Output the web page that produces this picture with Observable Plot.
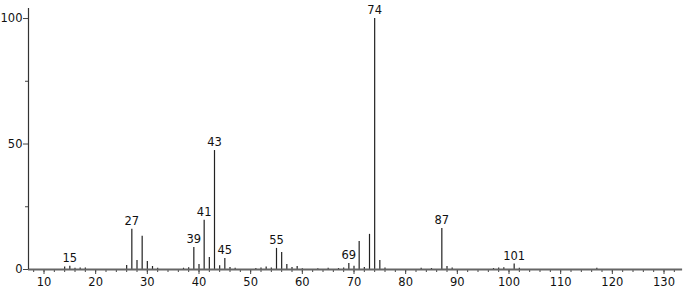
<!DOCTYPE html>
<html>
<head>
<meta charset="utf-8">
<script src="https://cdn.jsdelivr.net/npm/d3@7"></script>
<script src="https://cdn.jsdelivr.net/npm/@observablehq/plot@0.6"></script>
<style>
  html, body { margin: 0; padding: 0; background: #fff; }
  #chart svg { display: block; }
</style>
</head>
<body>
<div id="chart"></div>
<script>
// m/z values and relative intensities
const mz = [14, 15, 16, 17, 18, 26, 27, 28, 29, 30, 31, 32, 37, 38, 39, 40, 41, 42, 43, 44, 45, 46, 47,
            51, 52, 53, 54, 55, 56, 57, 58, 59, 60, 63, 65, 67, 68, 69, 70, 71, 72, 73, 74, 75, 76,
            83, 85, 87, 88, 89, 97, 98, 99, 101, 102, 117];
const intensity = [1.0, 1.3, 0.5, 0.6, 0.6, 1.6, 16.0, 3.6, 13.2, 3.2, 1.2, 0.5, 0.5, 0.7, 8.8, 2.0, 19.6, 4.8, 47.4, 1.5, 4.4, 0.8, 0.5,
                   0.4, 0.6, 1.0, 0.6, 8.4, 6.8, 2.0, 0.8, 1.2, 0.3, 0.3, 0.5, 0.4, 0.6, 2.4, 1.3, 11.2, 0.8, 14.0, 100, 3.6, 0.6,
                   0.5, 0.4, 16.3, 1.2, 0.6, 0.4, 0.6, 0.7, 2.2, 0.5, 0.5];
const labeled = [15, 27, 39, 41, 43, 45, 55, 69, 74, 87, 101];
const xMajor = [10, 20, 30, 40, 50, 60, 70, 80, 90, 100, 110, 120, 130];
const xMinor = d3.range(8, 133, 2);
const yMajor = [0, 50, 100];
const yMinor = [25, 75];

const peaks = mz.map((m, i) => ({mz: m, intensity: intensity[i]}));
const labels = peaks.filter(d => labeled.includes(d.mz));

const font = "'DejaVu Sans', sans-serif";

const chart = Plot.plot({
  width: 683,
  height: 291,
  marginLeft: 28,
  marginRight: 4,
  marginTop: 8,
  marginBottom: 22,
  style: {fontFamily: font, fontSize: "11.5px", color: "#111", background: "#fff"},
  x: {domain: [7, 133], label: null},
  y: {domain: [0, 104], label: null},
  marks: [
    // minor x ticks
    Plot.axisX({ticks: xMinor, tickSize: 3, tickFormat: () => "", stroke: "#444", label: null}),
    // major x ticks with labels
    Plot.axisX({ticks: xMajor, tickSize: 5, tickPadding: 3, tickFormat: d => String(d), stroke: "#444", fill: "#111", label: null}),
    // y minor / major ticks
    Plot.axisY({ticks: yMinor, tickSize: 3, tickFormat: () => "", stroke: "#444", label: null}),
    Plot.axisY({ticks: yMajor, tickSize: 5, tickPadding: 1, tickFormat: d => String(d), stroke: "#444", fill: "#111", label: null}),
    // peaks
    Plot.ruleX(peaks, {x: "mz", y1: 0, y2: "intensity", stroke: "#222", strokeWidth: 1.2}),
    // baseline and y axis line
    Plot.ruleY([0], {x1: 7, x2: 133.6, stroke: "#666", strokeWidth: 2}),
    Plot.ruleX([7], {y1: 0, y2: 104, stroke: "#333", strokeWidth: 1.2}),
    // peak labels
    Plot.text(labels, {x: "mz", y: "intensity", text: d => String(d.mz), dy: -8, fill: "#111", fontSize: 11.5})
  ]
});
document.getElementById("chart").appendChild(chart);
</script>
</body>
</html>
